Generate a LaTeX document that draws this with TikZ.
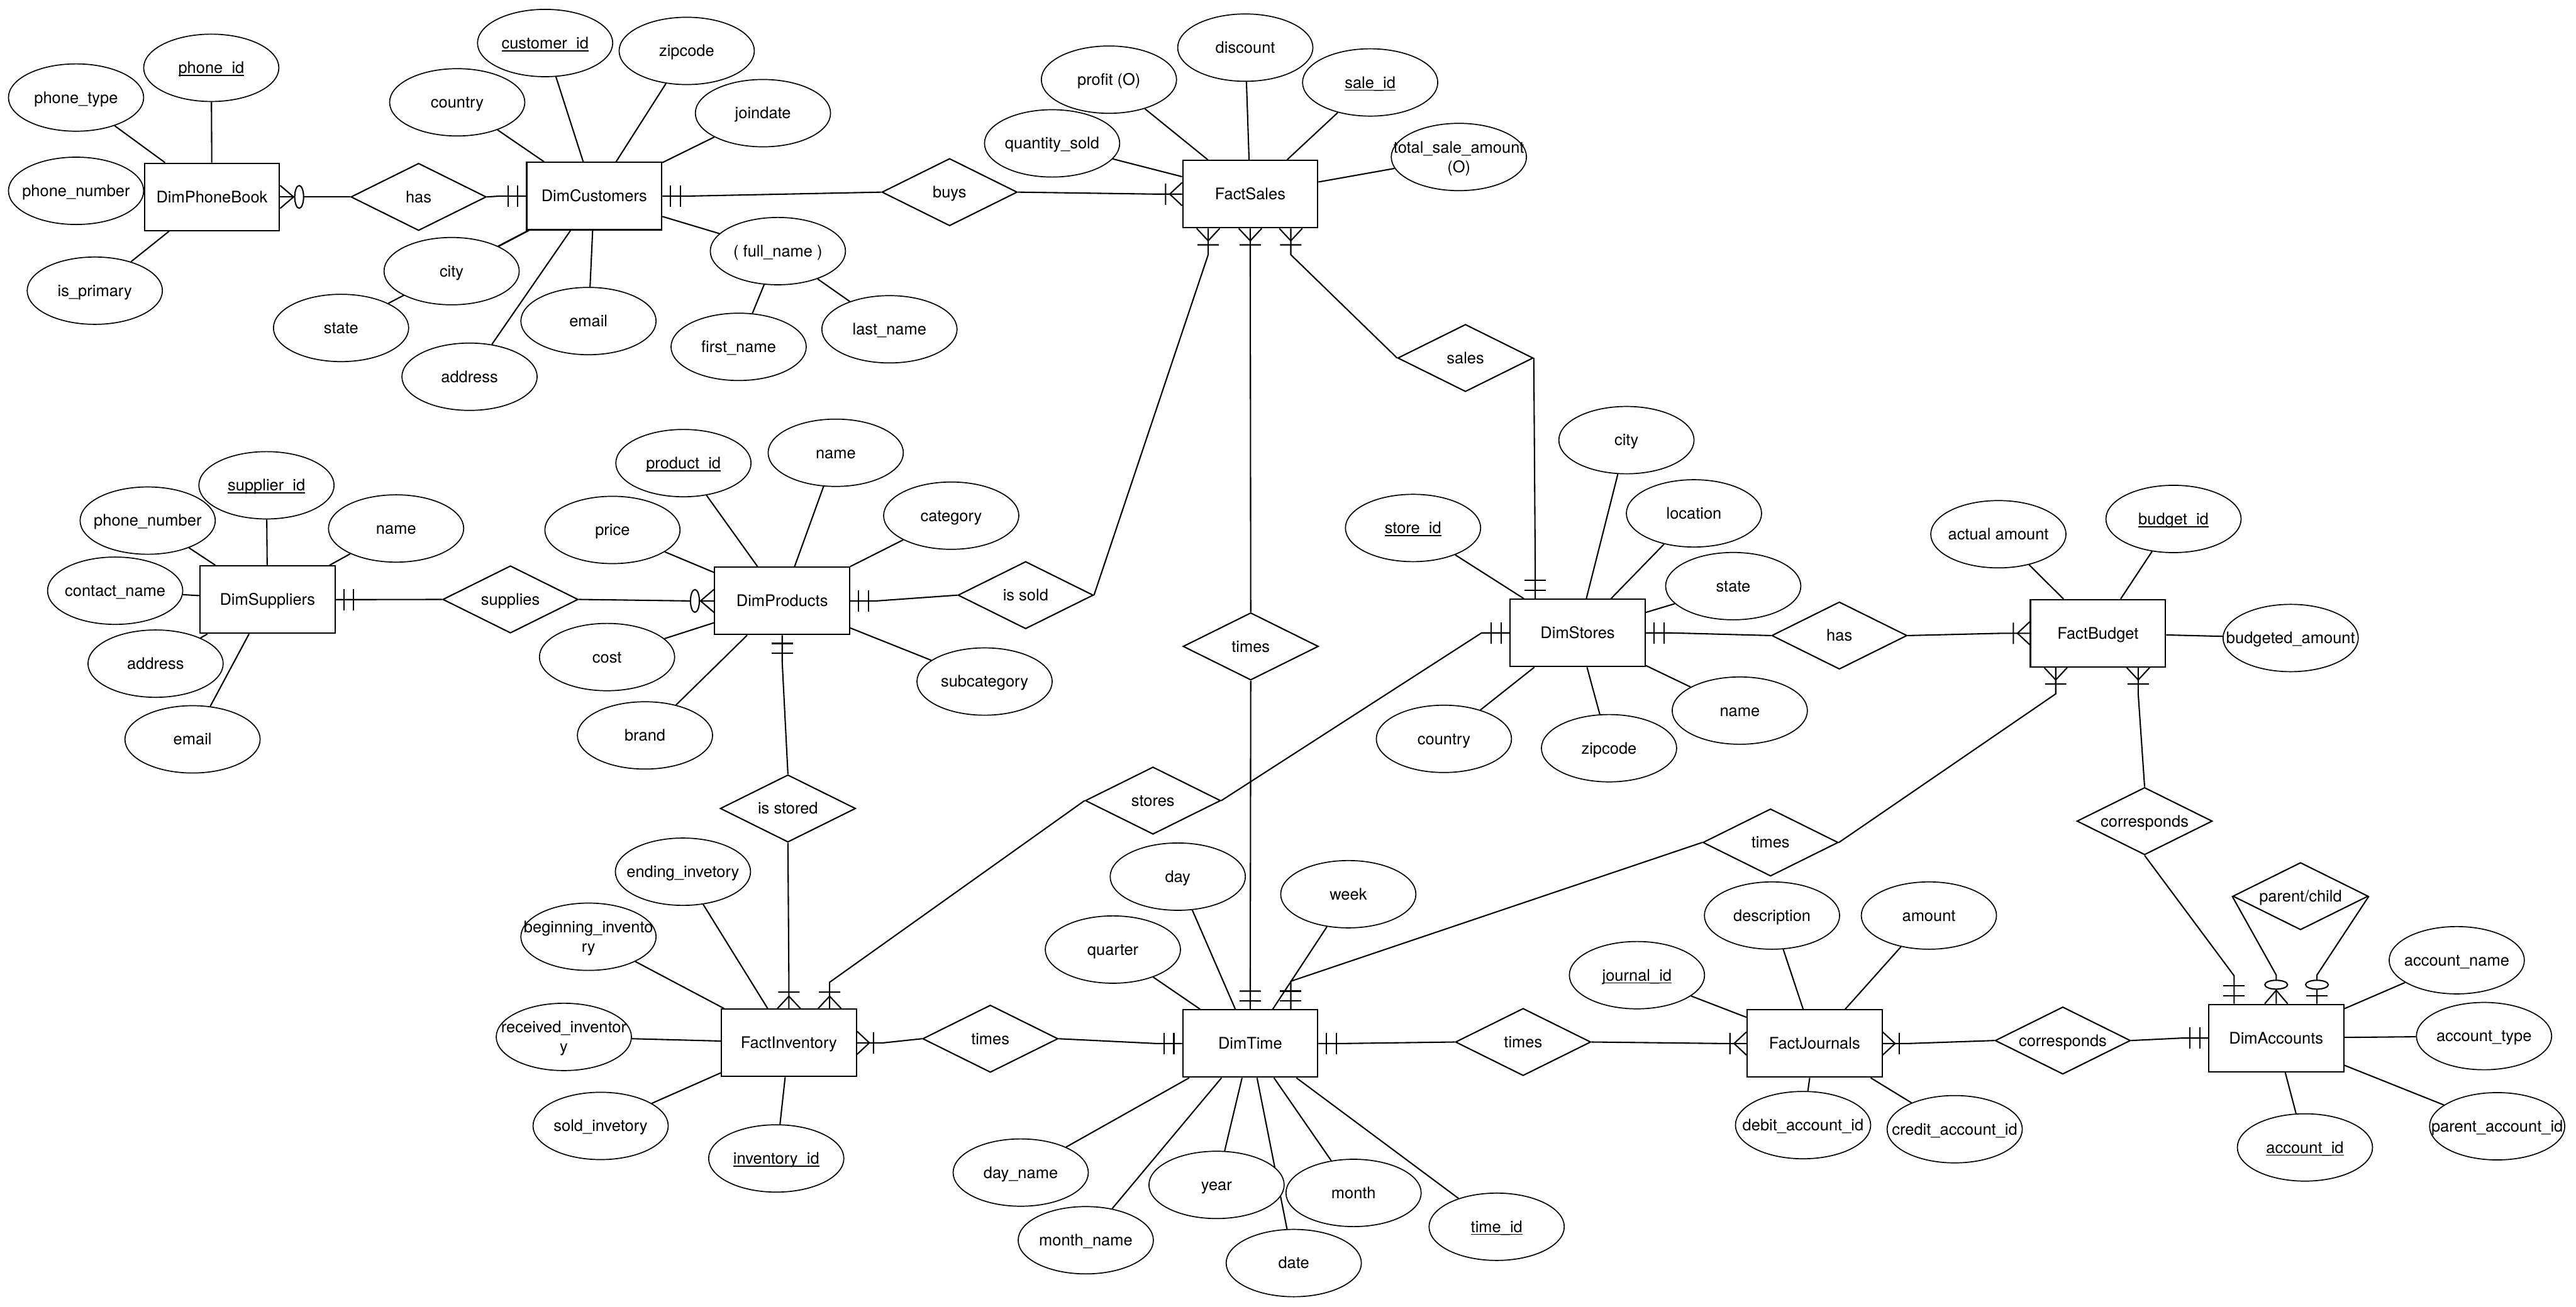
\documentclass[tikz,border=0pt]{standalone}
\usepackage{fontspec}
\setmainfont{TeX Gyre Heros}
\usepackage{tikz}
\usetikzlibrary{shapes.geometric,backgrounds}

\newcommand{\keyname}[1]{\setbox0\hbox{#1}\rlap{\raisebox{-1.6pt}{\rule{\wd0}{0.65pt}}}\box0}

%% crow's foot tips, the tip stands on the border of the box
\pgfdeclarearrow{
	name = MandOne,
	setup code = {\pgfarrowssettipend{0pt}\pgfarrowssetlineend{0pt}\pgfarrowssetbackend{-11pt}\pgfarrowssetvisualbackend{-11pt}},
	drawing code = {
		\pgfpathmoveto{\pgfqpoint{-5pt}{6.5pt}}\pgfpathlineto{\pgfqpoint{-5pt}{-6.5pt}}
		\pgfpathmoveto{\pgfqpoint{-11pt}{6.5pt}}\pgfpathlineto{\pgfqpoint{-11pt}{-6.5pt}}
		\pgfusepathqstroke
	}
}
\pgfdeclarearrow{
	name = OneMany,
	setup code = {\pgfarrowssettipend{0pt}\pgfarrowssetlineend{0pt}\pgfarrowssetbackend{-10pt}\pgfarrowssetvisualbackend{-10pt}},
	drawing code = {
		\pgfpathmoveto{\pgfqpoint{0pt}{7pt}}\pgfpathlineto{\pgfqpoint{-7.5pt}{0pt}}\pgfpathlineto{\pgfqpoint{0pt}{-7pt}}
		\pgfpathmoveto{\pgfqpoint{-10pt}{6.5pt}}\pgfpathlineto{\pgfqpoint{-10pt}{-6.5pt}}
		\pgfusepathqstroke
	}
}
\pgfdeclarearrow{
	name = ZeroMany,
	setup code = {\pgfarrowssettipend{0pt}\pgfarrowssetlineend{0pt}\pgfarrowssetbackend{-14.6pt}\pgfarrowssetvisualbackend{-14.6pt}},
	drawing code = {
		\pgfpathmoveto{\pgfqpoint{0pt}{7pt}}\pgfpathlineto{\pgfqpoint{-8.2pt}{0pt}}\pgfpathlineto{\pgfqpoint{0pt}{-7pt}}
		\pgfusepathqstroke
		\pgfsetfillcolor{white}
		\pgfpathellipse{\pgfqpoint{-11.6pt}{0pt}}{\pgfqpoint{2.7pt}{0pt}}{\pgfqpoint{0pt}{6.9pt}}
		\pgfusepathqfillstroke
	}
}
\pgfdeclarearrow{
	name = ZeroOne,
	setup code = {\pgfarrowssettipend{0pt}\pgfarrowssetlineend{0pt}\pgfarrowssetbackend{-14.6pt}\pgfarrowssetvisualbackend{-14.6pt}},
	drawing code = {
		\pgfpathmoveto{\pgfqpoint{-5pt}{6.5pt}}\pgfpathlineto{\pgfqpoint{-5pt}{-6.5pt}}
		\pgfusepathqstroke
		\pgfsetfillcolor{white}
		\pgfpathellipse{\pgfqpoint{-11.6pt}{0pt}}{\pgfqpoint{2.7pt}{0pt}}{\pgfqpoint{0pt}{6.9pt}}
		\pgfusepathqfillstroke
	}
}

\begin{document}
\begin{tikzpicture}[x=1pt,y=-1pt]
	\tikzset{every node/.style={font=\fontsize{9.75}{11.8}\selectfont,text height=9pt,text depth=2.2pt},
		entity/.style={draw,line width=0.8pt,fill=white,minimum width=82.2pt,minimum height=41pt,inner sep=0pt},
		attrib/.style={ellipse,draw,line width=0.65pt,fill=white,minimum width=82.3pt,minimum height=41pt,inner xsep=-30pt,inner ysep=0pt,align=center},
		twolines/.style={attrib,text height=20.8pt,text depth=2.2pt},
		rel/.style={diamond,aspect=2,draw,line width=0.8pt,fill=white,minimum width=82.4pt,minimum height=41pt,inner sep=0pt}}
	\tikzstyle{every path}=[line width=0.8pt]
	\useasboundingbox (0,0) rectangle (1568,795.7);

	%% Entities
	\node[entity] (phonebook) at (129,119.9) {DimPhoneBook};
	\node[entity] (customers) at (361.7,119.4) {DimCustomers};
	\node[entity] (factsales) at (761,118.2) {FactSales};
	\node[entity] (suppliers) at (162.8,365.1) {DimSuppliers};
	\node[entity] (products) at (476.1,365.9) {DimProducts};
	\node[entity] (dimstores) at (960.3,385.4) {DimStores};
	\node[entity] (factbudget) at (1277,385.6) {FactBudget};
	\node[entity] (inventory) at (480.2,635) {FactInventory};
	\node[entity] (dimtime) at (761,635.4) {DimTime};
	\node[entity] (journals) at (1104.5,635.4) {FactJournals};
	\node[entity] (accounts) at (1385.5,632.1) {DimAccounts};

	%% Relationships
	\node[rel] (hasphone) at (254.8,119.9) {has};
	\node[rel] (buys) at (578,117) {buys};
	\node[rel] (sales) at (892,218) {sales};
	\node[rel] (supplies) at (310.7,365) {supplies};
	\node[rel] (issold) at (624.3,362.4) {is sold};
	\node[rel] (timessales) at (761.3,393.6) {times};
	\node[rel] (hasbudget) at (1119.6,387) {has};
	\node[rel] (isstored) at (479.6,492.3) {is stored};
	\node[rel] (stores) at (701.8,487.5) {stores};
	\node[rel] (timesbudget) at (1077.7,513) {times};
	\node[rel] (corrbudget) at (1305.4,500) {corresponds};
	\node[rel] (parentchild) at (1400.3,545.7) {parent/child};
	\node[rel] (timesinv) at (602.8,632.5) {times};
	\node[rel] (timesjournal) at (927.1,634.5) {times};
	\node[rel] (corrjournal) at (1255.6,633.6) {corresponds};

	%% Attributes of the phone book and the customers
	\node[attrib] (phoneid) at (128.6,41.3) {\keyname{phone\_id}};
	\node[attrib] (phonetype) at (46.3,59.4) {phone\_type};
	\node[attrib] (phonenumber) at (46.3,116.2) {phone\_number};
	\node[attrib] (isprimary) at (57.7,177) {is\_primary};
	\node[attrib] (customerid) at (331.8,26.2) {\keyname{customer\_id}};
	\node[attrib] (custcountry) at (278.3,62.3) {country};
	\node[attrib] (custzipcode) at (418,31) {zipcode};
	\node[attrib] (joindate) at (464.4,68.9) {joindate};
	\node[attrib] (custcity) at (274.9,165.1) {city};
	\node[attrib] (custstate) at (207.6,199.7) {state};
	\node[attrib] (custemail) at (358.2,195.5) {email};
	\node[attrib] (custaddress) at (285.8,229.4) {address};
	\node[attrib] (fullname) at (473.5,152.9) {( full\_name )};
	\node[attrib] (firstname) at (449.6,211.2) {first\_name};
	\node[attrib] (lastname) at (541.4,200.5) {last\_name};

	%% Attributes of the sales
	\node[attrib] (quantity) at (640.4,87.3) {quantity\_sold};
	\node[attrib] (profit) at (675,48.5) {profit (O)};
	\node[attrib] (discount) at (758,29) {discount};
	\node[attrib] (saleid) at (834,50.2) {\keyname{sale\_id}};
	\node[twolines] (totalsale) at (888,95.6) {total\_sale\_amount\\(O)};

	%% Attributes of the suppliers and the products
	\node[attrib] (supplierid) at (162.2,295.5) {\keyname{supplier\_id}};
	\node[attrib] (supphone) at (89.9,317) {phone\_number};
	\node[attrib] (supname) at (241.1,321.8) {name};
	\node[attrib] (contact) at (70.1,359.7) {contact\_name};
	\node[attrib] (supaddress) at (94.7,404.1) {address};
	\node[attrib] (supemail) at (117.2,450.2) {email};
	\node[attrib] (productid) at (416,282) {\keyname{product\_id}};
	\node[attrib] (prodname) at (508.7,275.7) {name};
	\node[attrib] (price) at (372.8,322.7) {price};
	\node[attrib] (category) at (579,314) {category};
	\node[attrib] (cost) at (369.5,400.1) {cost};
	\node[attrib] (brand) at (392.6,447.8) {brand};
	\node[attrib] (subcategory) at (599.3,415) {subcategory};

	%% Attributes of the stores and the budget
	\node[attrib] (storecity) at (990,268) {city};
	\node[attrib] (location) at (1031.1,312.6) {location};
	\node[attrib] (storestate) at (1055,356.9) {state};
	\node[attrib] (storeid) at (860.1,321.5) {\keyname{store\_id}};
	\node[attrib] (storename) at (1059,432.7) {name};
	\node[attrib] (storezip) at (979.4,455.6) {zipcode};
	\node[attrib] (storecountry) at (878.9,449.9) {country};
	\node[attrib] (actual) at (1216.4,325.3) {actual amount};
	\node[attrib] (budgetid) at (1323,316) {\keyname{budget\_id}};
	\node[attrib] (budgeted) at (1394.3,388.5) {budgeted\_amount};

	%% Attributes of the inventory
	\node[attrib] (ending) at (415.7,530.8) {ending\_invetory};
	\node[twolines] (beginning) at (358.2,570.4) {beginning\_invento\\ry};
	\node[twolines] (received) at (343.2,631.4) {received\_inventor\\y};
	\node[attrib] (sold) at (365.6,685.6) {sold\_invetory};
	\node[attrib] (inventoryid) at (472.5,705.4) {\keyname{inventory\_id}};

	%% Attributes of the time
	\node[attrib] (day) at (716.9,533.8) {day};
	\node[attrib] (week) at (820.7,544.5) {week};
	\node[attrib] (quarter) at (677.4,578.2) {quarter};
	\node[attrib] (dayname) at (621.3,714) {day\_name};
	\node[attrib] (monthname) at (660.9,755.2) {month\_name};
	\node[attrib] (year) at (740.5,721.5) {year};
	\node[attrib] (month) at (823.9,726.4) {month};
	\node[attrib] (date) at (787.5,769.1) {date};
	\node[attrib] (timeid) at (911,747) {\keyname{time\_id}};

	%% Attributes of the journals and the accounts
	\node[attrib] (description) at (1078.6,557.5) {description};
	\node[attrib] (amount) at (1174.1,557.5) {amount};
	\node[attrib] (journalid) at (996.4,593.8) {\keyname{journal\_id}};
	\node[attrib] (debit) at (1097.5,685.1) {debit\_account\_id};
	\node[attrib] (credit) at (1189.8,687.6) {credit\_account\_id};
	\node[attrib] (accountname) at (1495.4,584.7) {account\_name};
	\node[attrib] (accounttype) at (1512,630.9) {account\_type};
	\node[attrib] (parentid) at (1520,685.8) {parent\_account\_id};
	\node[attrib] (accountid) at (1403,698.7) {\keyname{account\_id}};

	\begin{pgfonlayer}{background}
	%% Attribute lines
	\foreach \a/\b in {phoneid/phonebook,phonetype/phonebook,phonenumber/phonebook,isprimary/phonebook,
		customerid/customers,custcountry/customers,custzipcode/customers,joindate/customers,custcity/customers,
		custstate/customers,custemail/customers,custaddress/customers,fullname/customers,firstname/fullname,lastname/fullname,
		quantity/factsales,profit/factsales,discount/factsales,saleid/factsales,totalsale/factsales,
		supplierid/suppliers,supphone/suppliers,supname/suppliers,contact/suppliers,supaddress/suppliers,supemail/suppliers,
		productid/products,prodname/products,price/products,category/products,cost/products,brand/products,subcategory/products,
		storecity/dimstores,location/dimstores,storestate/dimstores,storeid/dimstores,storename/dimstores,storezip/dimstores,storecountry/dimstores,
		actual/factbudget,budgetid/factbudget,budgeted/factbudget,
		ending/inventory,beginning/inventory,received/inventory,sold/inventory,inventoryid/inventory,
		day/dimtime,week/dimtime,quarter/dimtime,dayname/dimtime,monthname/dimtime,year/dimtime,month/dimtime,date/dimtime,timeid/dimtime,
		description/journals,amount/journals,journalid/journals,debit/journals,credit/journals,
		accountname/accounts,accounttype/accounts,parentid/accounts,accountid/accounts}
		\draw (\a) -- (\b);

	%% Relationship lines
	\draw[-ZeroMany] (hasphone.west) -- ([xshift=16pt]phonebook.east) -- (phonebook.east);
	\draw[-MandOne] (hasphone.east) -- ([xshift=-16pt]customers.west) -- (customers.west);
	\draw[-MandOne] (buys.west) -- ([xshift=16pt]customers.east) -- (customers.east);
	\draw[-OneMany] (buys.east) -- ([xshift=-16pt]factsales.west) -- (factsales.west);
	\draw[-OneMany] (sales.west) -- ([xshift=24.7pt,yshift=-16pt]factsales.south) -- ([xshift=24.7pt]factsales.south);
	\draw[-MandOne] (sales.east) -- ([xshift=-25.8pt,yshift=16pt]dimstores.north) -- ([xshift=-25.8pt]dimstores.north);
	\draw[-OneMany] (issold.east) -- ([xshift=-25.6pt,yshift=-16pt]factsales.south) -- ([xshift=-25.6pt]factsales.south);
	\draw[-MandOne] (issold.west) -- ([xshift=16pt]products.east) -- (products.east);
	\draw[-OneMany] (timessales.north) -- (factsales.south);
	\draw[-MandOne] (timessales.south) -- (dimtime.north);
	\draw[-MandOne] (supplies.west) -- ([xshift=16pt]suppliers.east) -- (suppliers.east);
	\draw[-ZeroMany] (supplies.east) -- ([xshift=-16pt]products.west) -- (products.west);
	\draw[-MandOne] (isstored.north) -- ([yshift=-16pt]products.south) -- (products.south);
	\draw[-OneMany] (isstored.south) -- ([yshift=16pt]inventory.north) -- (inventory.north);
	\draw[-OneMany] (stores.west) -- ([xshift=24.8pt,yshift=16pt]inventory.north) -- ([xshift=24.8pt]inventory.north);
	\draw[-MandOne] (stores.east) -- ([xshift=-17pt]dimstores.west) -- (dimstores.west);
	\draw[-MandOne] (hasbudget.west) -- ([xshift=16pt]dimstores.east) -- (dimstores.east);
	\draw[-OneMany] (hasbudget.east) -- ([xshift=-16pt]factbudget.west) -- (factbudget.west);
	\draw[-OneMany] (timesinv.west) -- ([xshift=16pt]inventory.east) -- (inventory.east);
	\draw[-MandOne] (timesinv.east) -- ([xshift=-16pt]dimtime.west) -- (dimtime.west);
	\draw[-MandOne] (timesbudget.west) -- ([xshift=24.7pt,yshift=17pt]dimtime.north) -- ([xshift=24.7pt]dimtime.north);
	\draw[-OneMany] (timesbudget.east) -- ([xshift=-25.7pt,yshift=-16pt]factbudget.south) -- ([xshift=-25.7pt]factbudget.south);
	\draw[-OneMany] (corrbudget.north) -- ([xshift=24.5pt,yshift=-16pt]factbudget.south) -- ([xshift=24.5pt]factbudget.south);
	\draw[-MandOne] (corrbudget.south) -- ([xshift=-25.6pt,yshift=17pt]accounts.north) -- ([xshift=-25.6pt]accounts.north);
	\draw[-ZeroMany] (parentchild.west) -- ([yshift=17.5pt]accounts.north) -- (accounts.north);
	\draw[-ZeroOne] (parentchild.east) -- ([xshift=24.8pt,yshift=17.5pt]accounts.north) -- ([xshift=24.8pt]accounts.north);
	\draw[-MandOne] (timesjournal.west) -- ([xshift=16pt]dimtime.east) -- (dimtime.east);
	\draw[-OneMany] (timesjournal.east) -- ([xshift=-16pt]journals.west) -- (journals.west);
	\draw[-OneMany] (corrjournal.west) -- ([xshift=16pt]journals.east) -- (journals.east);
	\draw[-MandOne] (corrjournal.east) -- ([xshift=-16pt]accounts.west) -- (accounts.west);
	\end{pgfonlayer}
\end{tikzpicture}
\end{document}
